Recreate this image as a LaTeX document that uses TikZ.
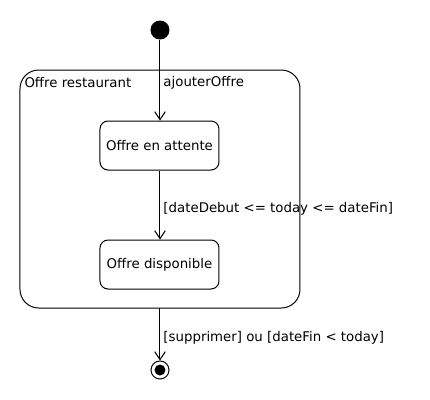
\documentclass[tikz,border=0pt]{standalone}
\usepackage{fontspec}
\setmainfont{DejaVu Sans}
\usetikzlibrary{arrows.meta}
\begin{document}
\begin{tikzpicture}[x=0.75pt,y=-0.75pt,line width=0.75pt,
  every node/.style={font=\fontsize{10}{12}\selectfont},
  state/.style={draw,rounded corners=6,minimum width=119*0.75pt,minimum height=49*0.75pt,inner sep=0pt},
  trans/.style={draw,-{Straight Barb[length=6pt,width=8pt]}},
  lbl/.style={anchor=west,inner sep=0pt}]
\useasboundingbox (0,0) rectangle (430,400);
\node[circle,fill=black,minimum size=19*0.75pt,inner sep=0pt] (start) at (160,30) {};
\draw[rounded corners=14] (20,70) rectangle (300,308);
\coordinate (comp) at (160,308);
\node[lbl] (ctitle) at (24,83) {Offre restaurant};
\node[state] (att) at (159.5,145.5) {Offre en attente};
\node[state] (disp) at (159.5,264.5) {Offre disponible};
\node[circle,draw,minimum size=18*0.75pt,inner sep=0pt] (final) at (160,370) {};
\node[circle,fill=black,minimum size=11*0.75pt,inner sep=0pt] (finalin) at (160,370) {};
\draw[trans] (start) -- (att.north -| start);
\node[lbl] (l1) at (163,83) {ajouterOffre};
\draw[trans] (att.south -| start) -- (disp.north -| start);
\node[lbl] (l2) at (163,209) {[dateDebut <= today <= dateFin]};
\draw[trans] (comp) -- (final);
\node[lbl] (l3) at (163,338) {[supprimer] ou [dateFin < today]};
\end{tikzpicture}
\end{document}
